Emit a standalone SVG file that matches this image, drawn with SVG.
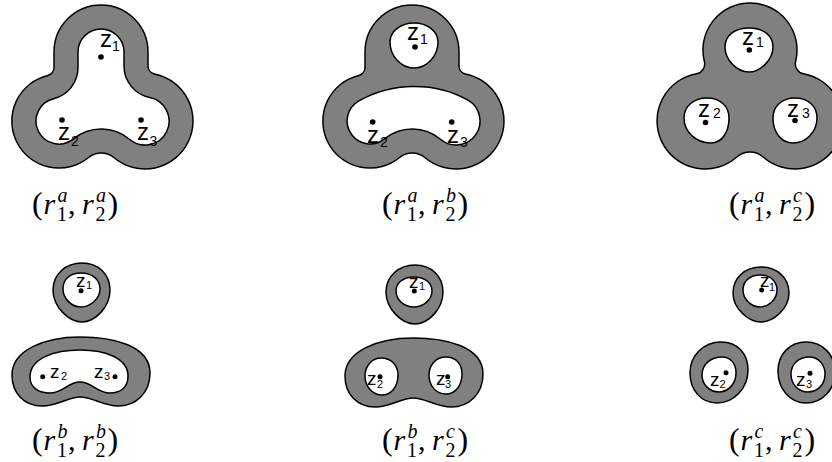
<svg xmlns="http://www.w3.org/2000/svg" width="832" height="462" viewBox="0 0 832 462">
<style>
.band{fill:#808080;stroke:#000;stroke-width:1.5;stroke-linejoin:round}
.hole{fill:#fff;stroke:#000;stroke-width:1.5;stroke-linejoin:round}
.dot{fill:#000}
.z{font-family:"Liberation Sans",Arial,sans-serif;fill:#000}
.zb{font-size:24px}
.zs{font-size:14px}
.zb2{font-size:19px}
.zs2{font-size:11px}
.m{font-family:"Liberation Serif","Times New Roman",serif;font-size:30px;fill:#000}
.i{font-style:italic}
.s{font-size:20px}
.p{font-size:32px}
</style>
<rect width="832" height="462" fill="#fff"/>

<g id="panel-a-a">
<path class="band" d="M 101,5 A 47 47 0 0 1 148,52 L 148,66.1 A 8 8 0 0 0 154.4,73.9 A 48 48 0 1 1 114.1,157.7 A 20 20 0 0 0 88.6,157.5 A 47 47 0 1 1 47.9,75.4 A 8 8 0 0 0 54,67.6 L 54,52 A 47 47 0 0 1 101,5 Z"/>
<path class="hole" d="M 101,29 A 23 23 0 0 1 124,52 L 124,66.1 A 32 32 0 0 0 149.7,97.5 A 24 24 0 1 1 129.5,139.3 A 44 44 0 0 0 73.5,138.9 A 23 23 0 1 1 53.6,98.7 A 32 32 0 0 0 78,67.6 L 78,52 A 23 23 0 0 1 101,29 Z"/>
<circle class="dot" cx="101" cy="57" r="2.8"/>
<circle class="dot" cx="62" cy="120" r="2.8"/>
<circle class="dot" cx="141" cy="120" r="2.8"/>
<text class="z"><tspan class="zb" x="100" y="47">z</tspan><tspan class="zs" x="112" y="51">1</tspan></text>
<text class="z"><tspan class="zb" x="58" y="140">z</tspan><tspan class="zs" x="71" y="146">2</tspan></text>
<text class="z"><tspan class="zb" x="137" y="140">z</tspan><tspan class="zs" x="149.5" y="146">3</tspan></text>
<text class="m" transform="translate(32,214)"><tspan class="p" x="0" y="0">(</tspan><tspan class="i" x="11.5" y="0">r</tspan><tspan class="s i" x="25.5" y="-12">a</tspan><tspan class="s" x="25" y="6.5">1</tspan><tspan x="36" y="0">,</tspan><tspan class="i" x="50" y="0">r</tspan><tspan class="s i" x="64" y="-12">a</tspan><tspan class="s" x="63.5" y="6.5">2</tspan><tspan class="p" x="75.5" y="0">)</tspan></text>
</g>

<g id="panel-a-b">
<path class="band" transform="translate(311,0)" d="M 101,5 A 47 47 0 0 1 148,52 L 148,66.1 A 8 8 0 0 0 154.4,73.9 A 48 48 0 1 1 114.1,157.7 A 20 20 0 0 0 88.6,157.5 A 47 47 0 1 1 47.9,75.4 A 8 8 0 0 0 54,67.6 L 54,52 A 47 47 0 0 1 101,5 Z"/>
<path class="hole" d="M 414,23 C 427,23 438,31 438,42 C 438,56 427,68 414,68 C 401,68 390,56 390,42 C 390,31 401,23 414,23 Z"/>
<path class="hole" d="M 358.5,101.1 C 391.4,82.1 435.1,81.2 468,100.2 A 24 24 0 1 1 440.5,139.3 A 44 44 0 0 0 384.5,138.9 A 23 23 0 1 1 358.5,101.1 Z"/>
<circle class="dot" cx="415" cy="47" r="2.8"/>
<circle class="dot" cx="372.7" cy="122" r="2.8"/>
<circle class="dot" cx="451.7" cy="122" r="2.8"/>
<text class="z"><tspan class="zb" x="407" y="40">z</tspan><tspan class="zs" x="420" y="44">1</tspan></text>
<text class="z"><tspan class="zb" x="367" y="143">z</tspan><tspan class="zs" x="380" y="147">2</tspan></text>
<text class="z"><tspan class="zb" x="447" y="143">z</tspan><tspan class="zs" x="460" y="147">3</tspan></text>
<text class="m" transform="translate(382,214)"><tspan class="p" x="0" y="0">(</tspan><tspan class="i" x="11.5" y="0">r</tspan><tspan class="s i" x="25.5" y="-12">a</tspan><tspan class="s" x="25" y="6.5">1</tspan><tspan x="36" y="0">,</tspan><tspan class="i" x="50" y="0">r</tspan><tspan class="s i" x="64" y="-12">b</tspan><tspan class="s" x="63.5" y="6.5">2</tspan><tspan class="p" x="75.5" y="0">)</tspan></text>
</g>

<g id="panel-a-c">
<path class="band" d="M 750,3 A 47 47 0 0 1 795.6,61.5 A 10 10 0 0 0 803.5,73.76 A 48 48 0 1 1 763.2,157 A 20 20 0 0 0 736.8,157 A 48 48 0 1 1 696.5,73.76 A 10 10 0 0 0 704.4,61.5 A 47 47 0 0 1 750,3 Z"/>
<path class="hole" d="M 749,28 C 764,28 773,36 773,47 C 773,60 760,72 749,72 C 737,72 725,60 725,47 C 725,36 734,28 749,28 Z"/>
<path class="hole" d="M 707,98 C 720,98 729,106 729,118 C 729,132 722,143 711,143 C 695,143 684,131 684,118 C 684,106 694,98 707,98 Z"/>
<path class="hole" d="M 795,98 C 808,98 817,106 817,118 C 817,132 806,143 793,143 C 781,143 773,132 773,118 C 773,106 782,98 795,98 Z"/>
<circle class="dot" cx="749.3" cy="50" r="2.8"/>
<circle class="dot" cx="705.5" cy="122.5" r="2.8"/>
<circle class="dot" cx="795" cy="120.5" r="2.8"/>
<text class="z"><tspan class="zb" x="742" y="45">z</tspan><tspan class="zs" x="756" y="47">1</tspan></text>
<text class="z"><tspan class="zb" x="698" y="117">z</tspan><tspan class="zs" x="713" y="118">2</tspan></text>
<text class="z"><tspan class="zb" x="787" y="117">z</tspan><tspan class="zs" x="802" y="118">3</tspan></text>
<text class="m" transform="translate(729,214)"><tspan class="p" x="0" y="0">(</tspan><tspan class="i" x="11.5" y="0">r</tspan><tspan class="s i" x="25.5" y="-12">a</tspan><tspan class="s" x="25" y="6.5">1</tspan><tspan x="36" y="0">,</tspan><tspan class="i" x="50" y="0">r</tspan><tspan class="s i" x="64" y="-12">c</tspan><tspan class="s" x="63.5" y="6.5">2</tspan><tspan class="p" x="75.5" y="0">)</tspan></text>
</g>

<g id="panel-b-b">
<path class="band" d="M 82,263 C 98,263 110,274 110,290 C 110,307 95,322 82,322 C 69,322 53,307 53,290 C 53,274 66,263 82,263 Z"/>
<path class="hole" d="M 81,273 C 93,273 100,280 100,289 C 100,299 90,307 81,307 C 71,307 63,298 63,289 C 63,279 70,273 81,273 Z"/>
<path class="band" d="M 12,375 C 12,350 45,337 80,337 C 112,337 150,345 150,373 C 150,393 136,406 118,406 C 104,406 92,397 80,397 C 68,397 58,406 42,406 C 24,406 12,393 12,375 Z"/>
<path class="hole" d="M 30,377 C 30,358 55,350 80,350 C 105,350 128,358 128,376 C 128,388 120,393 110,393 C 97,393 92,382 80,382 C 68,382 63,393 50,393 C 39,393 30,388 30,377 Z"/>
<circle class="dot" cx="81" cy="290.7" r="2.5"/>
<circle class="dot" cx="42.7" cy="376.7" r="2.5"/>
<circle class="dot" cx="115" cy="376.7" r="2.5"/>
<text class="z"><tspan class="zb2" x="76" y="287">z</tspan><tspan class="zs2" x="86" y="289">1</tspan></text>
<text class="z"><tspan class="zb2" x="50" y="378">z</tspan><tspan class="zs2" x="61" y="380">2</tspan></text>
<text class="z"><tspan class="zb2" x="94" y="378">z</tspan><tspan class="zs2" x="104" y="380">3</tspan></text>
<text class="m" transform="translate(32,450)"><tspan class="p" x="0" y="0">(</tspan><tspan class="i" x="11.5" y="0">r</tspan><tspan class="s i" x="25.5" y="-12">b</tspan><tspan class="s" x="25" y="6.5">1</tspan><tspan x="36" y="0">,</tspan><tspan class="i" x="50" y="0">r</tspan><tspan class="s i" x="64" y="-12">b</tspan><tspan class="s" x="63.5" y="6.5">2</tspan><tspan class="p" x="75.5" y="0">)</tspan></text>
</g>

<g id="panel-b-c">
<path class="band" transform="translate(333,2)" d="M 82,263 C 98,263 110,274 110,290 C 110,307 95,322 82,322 C 69,322 53,307 53,290 C 53,274 66,263 82,263 Z"/>
<path class="hole" d="M 414,277 C 425,277 432,283 432,291 C 432,300 423,307 414,307 C 404,307 396,300 396,291 C 396,283 403,277 414,277 Z"/>
<path class="band" transform="translate(333,1)" d="M 12,375 C 12,350 45,337 80,337 C 112,337 150,345 150,373 C 150,393 136,406 118,406 C 104,406 92,397 80,397 C 68,397 58,406 42,406 C 24,406 12,393 12,375 Z"/>
<path class="hole" d="M 381,358 C 391,358 398,365 398,375 C 398,387 391,395 382,395 C 372,395 365,386 365,376 C 365,366 372,358 381,358 Z"/>
<path class="hole" d="M 446,357 C 456,357 462,364 462,374 C 462,386 455,394 446,394 C 436,394 429,386 429,375 C 429,365 436,357 446,357 Z"/>
<circle class="dot" cx="414.3" cy="291" r="2.5"/>
<circle class="dot" cx="380" cy="376.7" r="2.5"/>
<circle class="dot" cx="447.7" cy="376.7" r="2.5"/>
<text class="z"><tspan class="zb2" x="409" y="288">z</tspan><tspan class="zs2" x="419" y="290">1</tspan></text>
<text class="z"><tspan class="zb2" x="367" y="385">z</tspan><tspan class="zs2" x="377" y="388">2</tspan></text>
<text class="z"><tspan class="zb2" x="436" y="385">z</tspan><tspan class="zs2" x="445" y="388">3</tspan></text>
<text class="m" transform="translate(382,450)"><tspan class="p" x="0" y="0">(</tspan><tspan class="i" x="11.5" y="0">r</tspan><tspan class="s i" x="25.5" y="-12">b</tspan><tspan class="s" x="25" y="6.5">1</tspan><tspan x="36" y="0">,</tspan><tspan class="i" x="50" y="0">r</tspan><tspan class="s i" x="64" y="-12">c</tspan><tspan class="s" x="63.5" y="6.5">2</tspan><tspan class="p" x="75.5" y="0">)</tspan></text>
</g>

<g id="panel-c-c">
<path class="band" d="M 761,267 C 777,267 789,278 789,293 C 789,309 773,322 761,322 C 749,322 733,309 733,293 C 733,278 745,267 761,267 Z"/>
<path class="hole" d="M 760,275 C 771,275 777,282 777,290 C 777,300 768,307 760,307 C 751,307 743,299 743,290 C 743,281 750,275 760,275 Z"/>
<path class="band" d="M 721,342 C 738,342 748,354 748,370 C 748,388 734,403 717,403 C 701,403 690,390 690,373 C 690,355 704,342 721,342 Z"/>
<path class="hole" d="M 722,357 C 731,357 736,364 736,373 C 736,384 728,392 719,392 C 709,392 702,384 702,375 C 702,364 711,357 722,357 Z"/>
<path class="band" d="M 806,342 C 823,342 835,355 835,372 C 835,390 822,403 806,403 C 790,403 778,389 778,371 C 778,354 790,342 806,342 Z"/>
<path class="hole" d="M 809,357 C 819,357 825,365 825,374 C 825,385 817,392 808,392 C 798,392 791,384 791,374 C 791,364 799,357 809,357 Z"/>
<circle class="dot" cx="761.7" cy="290" r="2.5"/>
<circle class="dot" cx="726" cy="372.7" r="2.5"/>
<circle class="dot" cx="810" cy="373.3" r="2.5"/>
<text class="z"><tspan class="zb2" x="760" y="287">z</tspan><tspan class="zs2" x="769" y="291">1</tspan></text>
<text class="z"><tspan class="zb2" x="710" y="386">z</tspan><tspan class="zs2" x="719.5" y="388">2</tspan></text>
<text class="z"><tspan class="zb2" x="796" y="386">z</tspan><tspan class="zs2" x="806" y="388">3</tspan></text>
<text class="m" transform="translate(729,450)"><tspan class="p" x="0" y="0">(</tspan><tspan class="i" x="11.5" y="0">r</tspan><tspan class="s i" x="25.5" y="-12">c</tspan><tspan class="s" x="25" y="6.5">1</tspan><tspan x="36" y="0">,</tspan><tspan class="i" x="50" y="0">r</tspan><tspan class="s i" x="64" y="-12">c</tspan><tspan class="s" x="63.5" y="6.5">2</tspan><tspan class="p" x="75.5" y="0">)</tspan></text>
</g>
</svg>
